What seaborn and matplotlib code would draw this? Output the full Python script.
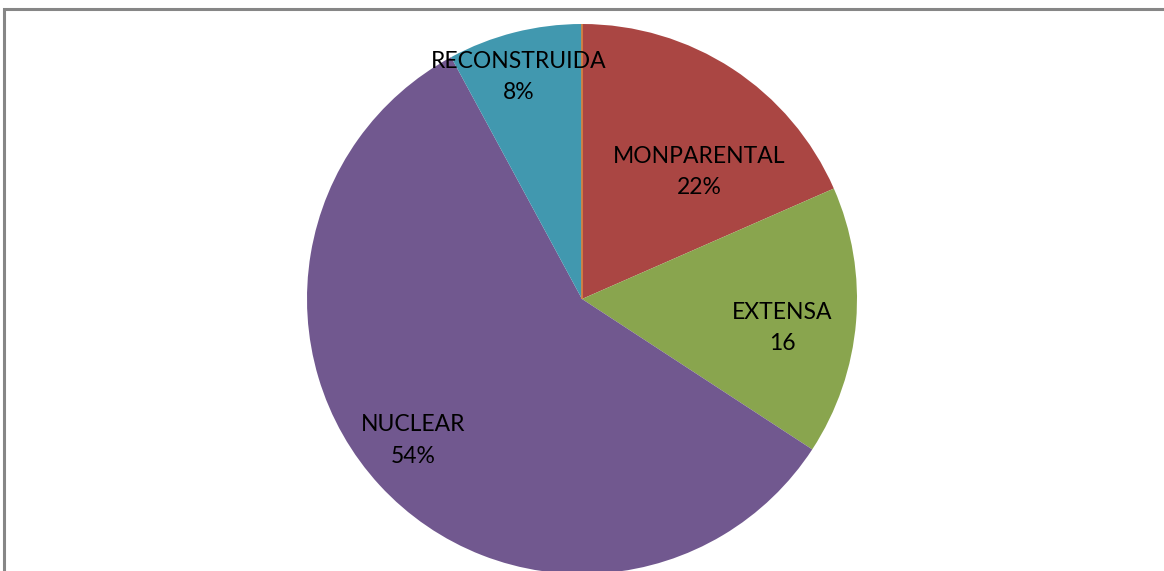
import matplotlib
matplotlib.use("Agg")
import matplotlib.pyplot as plt
import seaborn as sns
import numpy as np
from matplotlib.patches import Rectangle

# Data
categories = ["MONPARENTAL", "EXTENSA", "NUCLEAR", "RECONSTRUIDA", ""]
values = [7, 6, 22, 3, 0]
label_texts = ["MONPARENTAL\n22%", "EXTENSA\n16", "NUCLEAR\n54%", "RECONSTRUIDA\n8%"]

colors = ["#AA4643", "#89A54E", "#71588F", "#4198AF", "#DB843D"]

sns.set_theme(style="white")
plt.rcParams['font.family'] = ['Lato', 'DejaVu Sans']

W, H = 1164, 571
fig = plt.figure(figsize=(W / 100, H / 100), dpi=100)
ax = fig.add_axes([0, 0, 1, 1])

cx, cy, r = 582, H - 299, 275

wedges, _ = ax.pie(values, colors=colors, startangle=90, counterclock=False,
                   center=(cx, cy), radius=r, frame=True,
                   wedgeprops=dict(linewidth=0))
# zero-valued last slice shows as a thin orange line
wedges[-1].set_edgecolor(colors[-1])
wedges[-1].set_linewidth(1.2)
ax.set_xlim(0, W)
ax.set_ylim(0, H)
ax.axis("off")

# label placement (angle in degrees, fraction of radius)
label_pos = [(47.3, 0.628), (-8.3, 0.735), (220.0, 0.80), (105.8, 0.84)]
for txt, (ang, frac) in zip(label_texts, label_pos):
    a = np.deg2rad(ang)
    ax.text(cx + frac * r * np.cos(a), cy + frac * r * np.sin(a), txt,
            ha="center", va="center", fontsize=16.5, color="black",
            linespacing=1.6)

# chart frame
ax.add_patch(Rectangle((4, -20), W + 40, H - 9 + 20, fill=False,
                       edgecolor="#868686", linewidth=2.2, clip_on=False))

fig.savefig("out.png", dpi=100)
